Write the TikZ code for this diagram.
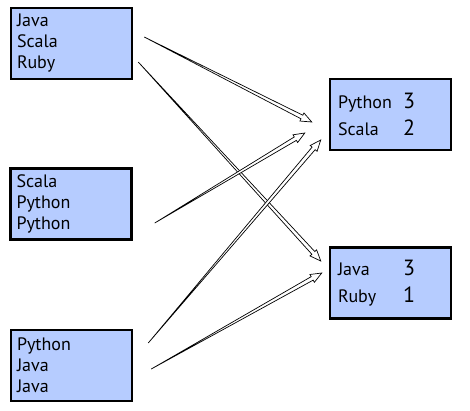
\documentclass[tikz,border=0pt]{standalone}
\usepackage{fontspec}
\setmainfont{PT Sans}
\usetikzlibrary{calc}

\definecolor{boxblue}{RGB}{182,204,255}

% tapered hollow arrow from one named coordinate to another
\newcommand{\taperarrow}[2]{%
  \path ($(#2)!11pt!(#1)$) coordinate (hb);
  \filldraw[fill=white,line width=0.7pt,line join=miter]
    (#1) -- ($(hb)!2pt!90:(#2)$) -- ($(hb)!4.5pt!90:(#2)$) -- (#2)
    -- ($(hb)!4.5pt!-90:(#2)$) -- ($(hb)!2pt!-90:(#2)$) -- cycle;
}

\begin{document}
\begin{tikzpicture}[x=1pt,y=-1pt,
    srcbox/.style={draw,line width=2.5pt,fill=boxblue,align=left,
      text width=109pt,inner xsep=6pt,minimum height=71pt,
      font=\fontsize{18}{21}\selectfont},
    cntbox/.style={draw,line width=2.5pt,fill=boxblue,align=left,
      text width=105pt,inner xsep=8pt,minimum height=71pt,
      font=\fontsize{18}{27}\selectfont}]
    \providecommand{\numsize}{\fontsize{22}{27}\selectfont}
    \useasboundingbox (0,0) rectangle (470,410);
    % sources
    \node[srcbox] (src1) at (71.5,43.5) {Java\\Scala\\Ruby};
    \node[srcbox] (src2) at (71,204) {Scala\\Python\\Python};
    \node[srcbox] (src3) at (71.5,365.5) {Python\\Java\\Java};
    % counts
    \node[cntbox] (cnt1) at (390.5,114.5)
      {\makebox[65pt][l]{Python}{\numsize 3}\\\makebox[65pt][l]{Scala}{\numsize 2}};
    \node[cntbox] (cnt2) at (390.5,283)
      {\makebox[65pt][l]{Java}{\numsize 3}\\\makebox[65pt][l]{Ruby}{\numsize 1}};
    % arrow ends
    \coordinate (s1) at ([xshift=11pt,yshift=6.5pt]src1.east);
    \coordinate (s2) at ([xshift=5pt,yshift=-18.5pt]src1.east);
    \coordinate (s3) at ([xshift=22pt,yshift=-19pt]src2.east);
    \coordinate (s4) at ([xshift=15pt,yshift=22.5pt]src3.east);
    \coordinate (s5) at ([xshift=18pt,yshift=-3.5pt]src3.east);
    \coordinate (e1) at ([xshift=-17pt,yshift=-7.5pt]cnt1.west);
    \coordinate (e3) at ([xshift=-24pt,yshift=-18.5pt]cnt1.west);
    \coordinate (e4) at ([xshift=-8pt,yshift=-25.5pt]cnt1.west);
    \coordinate (e2) at ([xshift=-8pt,yshift=22pt]cnt2.west);
    \coordinate (e5) at ([xshift=-7pt,yshift=10pt]cnt2.west);
    \taperarrow{s1}{e1}
    \taperarrow{s2}{e2}
    \taperarrow{s3}{e3}
    \taperarrow{s4}{e4}
    \taperarrow{s5}{e5}
\end{tikzpicture}
\end{document}
